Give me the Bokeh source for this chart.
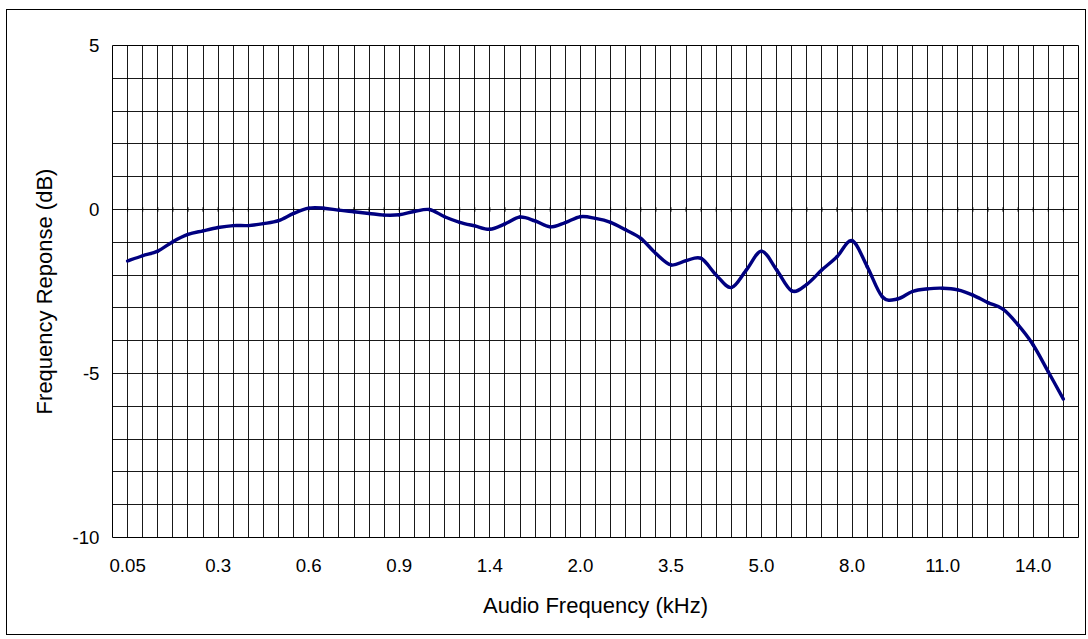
from bokeh.plotting import figure
from bokeh.models import FixedTicker, Range1d
from bokeh.embed import file_html
from bokeh.resources import INLINE

# ---- data ----
tick_labels = ["0.05", "0.3", "0.6", "0.9", "1.4", "2.0", "3.5", "5.0", "8.0", "11.0", "14.0"]
label_every = 6
response_db = [
    -1.57, -1.41, -1.27, -0.98, -0.76, -0.65, -0.55, -0.49, -0.49, -0.43,
    -0.34, -0.12, 0.04, 0.04, -0.02, -0.07, -0.12, -0.17, -0.16, -0.06,
    0.00, -0.22, -0.39, -0.50, -0.60, -0.44, -0.23, -0.35, -0.53, -0.40,
    -0.22, -0.27, -0.39, -0.62, -0.88, -1.34, -1.69, -1.56, -1.49, -2.00,
    -2.38, -1.84, -1.27, -1.84, -2.48, -2.28, -1.84, -1.44, -0.95, -1.74,
    -2.66, -2.73, -2.50, -2.42, -2.40, -2.45, -2.61, -2.84, -3.04, -3.52,
    -4.13, -4.95, -5.78,
]
y_tick_values = [-10, -5, 0, 5]
y_min, y_max = -10, 5

n = len(response_db)
x = list(range(1, n + 1))
font = "Liberation Sans"

p = figure(
    frame_width=966, frame_height=492,
    x_range=Range1d(0, n + 1), y_range=Range1d(y_min, y_max),
    output_backend="svg", toolbar_location=None,
    min_border_left=105, min_border_right=7, min_border_top=35, min_border_bottom=97,
    background_fill_color="white", border_fill_color="white",
)
p.styles = {"border": "1px solid black", "margin-left": "6px", "margin-top": "9px"}
p.outline_line_color = "black"
p.outline_line_width = 1

# grids: one vertical line per category, one horizontal line per dB
grid_x = list(range(0, n + 2))
p.xgrid.ticker = FixedTicker(ticks=grid_x)
p.ygrid.ticker = FixedTicker(ticks=list(range(y_min, y_max + 1)))
for g in (p.xgrid, p.ygrid):
    g.grid_line_color = "black"
    g.grid_line_width = 1
    g.grid_line_alpha = 0.9

# x axis
label_pos = [1 + i * label_every for i in range(len(tick_labels))]
xa = p.xaxis[0]
xa.ticker = FixedTicker(ticks=label_pos)
xa.major_label_overrides = {pos: lab for pos, lab in zip(label_pos, tick_labels)}
xa.axis_label = "Audio Frequency (kHz)"
xa.axis_line_color = None
xa.major_tick_line_color = None
xa.minor_tick_line_color = None
xa.major_tick_out = 0
xa.major_tick_in = 0
xa.major_label_standoff = 21
xa.axis_label_standoff = 18

# y axis
ya = p.yaxis[0]
ya.ticker = FixedTicker(ticks=y_tick_values)
ya.major_label_overrides = {v: str(v) for v in y_tick_values}
ya.axis_label = "Frequency Reponse (dB)"
ya.axis_line_color = None
ya.major_tick_line_color = None
ya.minor_tick_line_color = None
ya.major_tick_out = 0
ya.major_tick_in = 0
ya.major_label_standoff = 13
ya.axis_label_standoff = 12

for ax in (xa, ya):
    ax.major_label_text_font = font
    ax.major_label_text_font_size = "18.7px"
    ax.major_label_text_color = "black"
    ax.axis_label_text_font = font
    ax.axis_label_text_font_size = "22px"
    ax.axis_label_text_font_style = "normal"
    ax.axis_label_text_color = "black"

# category-axis tick marks crossing the 0 dB line
p.segment(x0=grid_x, x1=grid_x, y0=[-0.07] * len(grid_x), y1=[0.07] * len(grid_x),
          line_color="black", line_width=1)

# smoothed line (Excel-style): cubic Bezier between consecutive points,
# control points from the neighbouring data points
x0s, y0s, x1s, y1s, cx0s, cy0s, cx1s, cy1s = ([] for _ in range(8))
for i in range(n - 1):
    xp, yp = (x[i - 1], response_db[i - 1]) if i > 0 else (x[i], response_db[i])
    xa_, ya_ = x[i], response_db[i]
    xb_, yb_ = x[i + 1], response_db[i + 1]
    xn, yn = (x[i + 2], response_db[i + 2]) if i + 2 < n else (xb_, yb_)
    x0s.append(xa_); y0s.append(ya_)
    x1s.append(xb_); y1s.append(yb_)
    cx0s.append(xa_ + (xb_ - xp) / 6.0); cy0s.append(ya_ + (yb_ - yp) / 6.0)
    cx1s.append(xb_ - (xn - xa_) / 6.0); cy1s.append(yb_ - (yn - ya_) / 6.0)

p.bezier(x0=x0s, y0=y0s, x1=x1s, y1=y1s, cx0=cx0s, cy0=cy0s, cx1=cx1s, cy1=cy1s,
         line_color="#000080", line_width=3.4, line_cap="round")

open("out.html", "w").write(file_html(p, INLINE))
